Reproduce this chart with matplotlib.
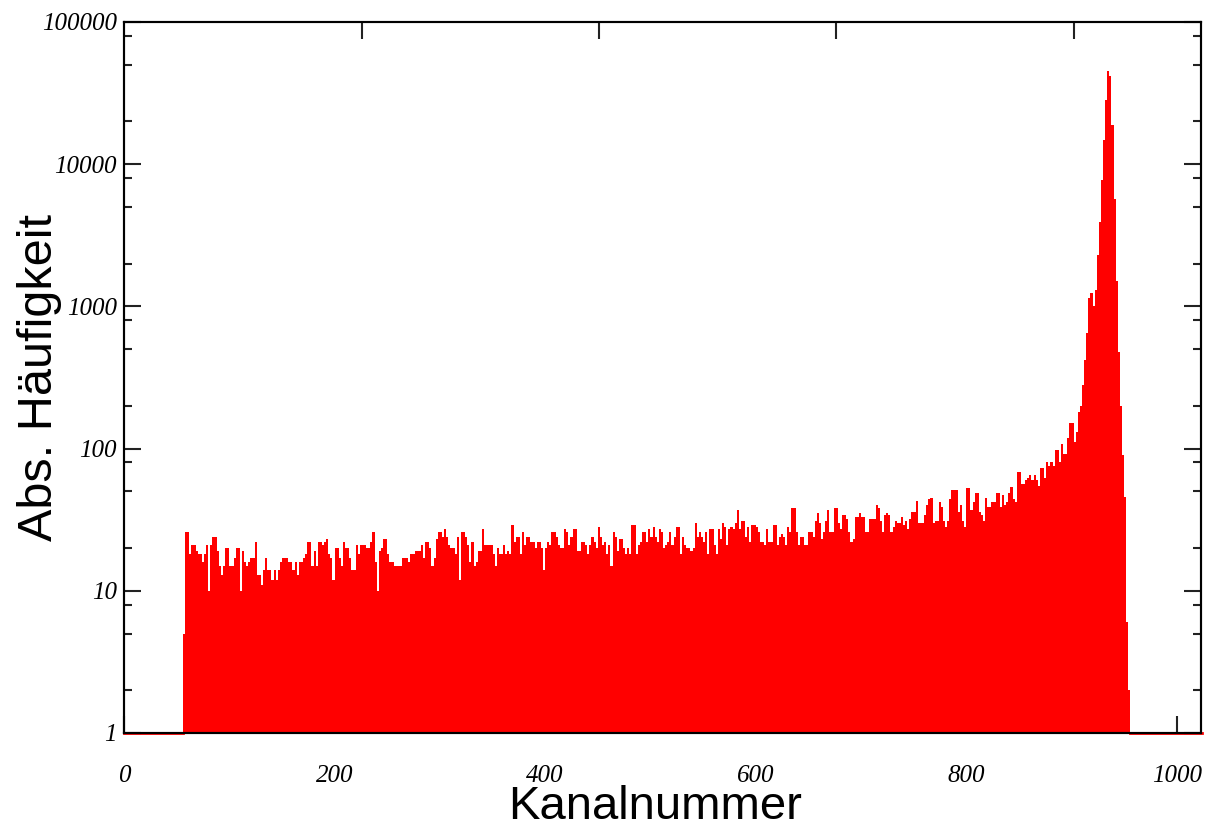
import matplotlib.pyplot as plt
import numpy as np

# channel counts, 2-channel bins starting at channel 56
first_channel = 56
bin_width = 2

counts_a = [5,
    26, 26, 18, 21, 21, 19, 18, 18, 16, 18, 21, 10, 21, 24, 24, 19, 15, 13, 15,
    20, 20, 15, 15, 17, 20, 20, 10, 19, 16, 15, 16, 17, 17, 22, 13, 13, 11, 14,
    17, 14, 14, 12, 14, 12, 14, 16, 17, 17, 17, 16, 16, 14, 16, 13, 16, 16, 17,
    18, 22, 22, 15, 19, 15, 22, 22, 21, 22, 23, 18, 17, 12, 20, 20, 17, 15, 22,
    20, 20, 17, 14, 14, 21, 18, 21, 21, 21, 20, 20, 22, 26, 16, 10, 19, 20, 23,
    23, 18, 16, 16, 15, 15, 15, 15, 17, 17, 17, 16, 18, 18, 19, 19, 19, 21, 17,
    22, 22, 20, 15, 17, 23, 26, 26, 24, 27, 24, 21, 20, 20, 18, 24, 12, 26, 26,
    24, 21, 16, 22, 15, 16, 19]

counts_b = [
    19, 27, 21, 21, 21, 21, 18, 15, 20, 18, 18, 21, 18, 19, 18, 29, 22, 24, 24,
    18, 26, 21, 24, 24, 22, 22, 20, 22, 22, 20, 14, 20, 22, 21, 26, 26, 24, 21,
    20, 20, 27, 26, 21, 24, 27, 27, 19, 19, 22, 22, 21, 18, 21, 24, 22, 20, 28,
    24, 21, 22, 18, 21, 15, 26, 24, 19, 23, 23, 20, 18, 20, 18, 29, 29, 18, 21,
    22, 26, 26, 22, 27, 24, 28, 24, 22, 27, 26, 20, 21, 22, 26, 21, 24, 28, 28,
    18, 24, 21, 20, 20, 19, 20, 30, 24, 26, 24, 22, 26, 18, 27, 27, 21, 18, 27,
    23, 30, 28, 21, 27, 28, 27, 30, 37, 27, 31, 31, 24, 28, 22, 29, 29, 28, 26,
    22, 22, 21, 27, 22, 22, 29, 29, 21]

counts_c = [
    24, 25, 24, 21, 28, 26, 38, 38, 26, 21, 24, 24, 21, 21, 26, 26, 24, 31, 35,
    30, 23, 26, 31, 37, 26, 26, 38, 38, 30, 27, 34, 34, 32, 26, 22, 23, 33, 33,
    35, 33, 33, 26, 26, 32, 32, 32, 40, 38, 31, 26, 34, 35, 34, 26, 28, 31, 30,
    30, 33, 29, 31, 27, 32, 36,
    36, 43, 30, 30, 30, 34, 40, 44, 45, 30, 31, 31, 42, 39, 31, 28, 31, 44, 51,
    51, 51, 36, 40, 31, 28, 53, 53, 37, 42, 49, 49, 36, 34, 31, 45, 39, 39, 42,
    42, 49, 49, 39, 47, 40, 42, 49, 54, 44, 42, 69, 69, 56, 56, 60, 62, 65, 60,
    65, 60, 55, 73, 73, 62, 81, 75, 81, 75, 98, 98, 81, 108, 92, 92, 118, 151,
    151, 112, 131, 182]

counts_d = [
    200, 280, 420, 650, 1150, 1250, 1000, 1300, 2300, 3900, 7800, 14800, 28300,
    45400, 41700, 18900, 5660, 1500, 480, 200, 90, 46, 6, 2]

counts = np.array(counts_a + counts_b + counts_c + counts_d, dtype=float)
edges = first_channel + bin_width * np.arange(len(counts) + 1)
n_channels = 1024

fig, ax = plt.subplots(figsize=(12.21, 8.26), dpi=100)
fig.subplots_adjust(left=0.1016, right=0.9836, bottom=0.1126, top=0.9734)

# empty channels sit on the floor of the log axis
ax.plot([0, edges[0]], [1, 1], color='red', lw=2, zorder=1, clip_on=False)
ax.plot([edges[-1], n_channels], [1, 1], color='red', lw=2, zorder=1, clip_on=False)
ax.stairs(counts, edges, baseline=1, fill=True, color='#ff0000', lw=0, zorder=2)

ax.set_yscale('log')
ax.set_ylim(1, 100000)
ax.set_xlim(0, 1023)

ax.set_yticks([1, 10, 100, 1000, 10000, 100000])
ax.set_yticklabels(['1', '10', '100', '1000', '10000', '100000'])
minor_y = [m * 10**d for d in range(0, 5) for m in (2, 5, 8)]
ax.set_yticks(minor_y, minor=True)
ax.set_xticks([0, 200, 400, 600, 800, 1000])
ax.set_xticks([], minor=True)

ax.tick_params(axis='both', which='both', direction='in', right=True,
               width=1.5, color='#222222')
ax.tick_params(axis='both', which='major', length=12)
ax.tick_params(axis='both', which='minor', length=6)
ax.tick_params(axis='y', which='both', pad=5)
ax.tick_params(axis='x', which='both', pad=23)
for lab in ax.get_xticklabels() + ax.get_yticklabels():
    lab.set_family('Liberation Serif')
    lab.set_style('italic')
    lab.set_fontsize(18)

# top axis: unlabelled ticks on its own scale
top = ax.twiny()
top.set_xlim(0, 4.535)
top.set_xticks([1, 2, 3, 4])
top.set_xticklabels([])
top.tick_params(axis='x', direction='in', length=12, width=1.5, color='#222222')

for a in (ax, top):
    for s in a.spines.values():
        s.set_linewidth(1.5)
        s.set_zorder(5)

ax.set_xlabel('Kanalnummer', family='Liberation Sans', fontsize=34)
ax.set_ylabel('Abs. Häufigkeit', family='Liberation Sans', fontsize=35)
ax.xaxis.set_label_coords(0.493, -0.073)
ax.yaxis.set_label_coords(-0.058, 0.5)

plt.savefig('out.png', dpi=100)
